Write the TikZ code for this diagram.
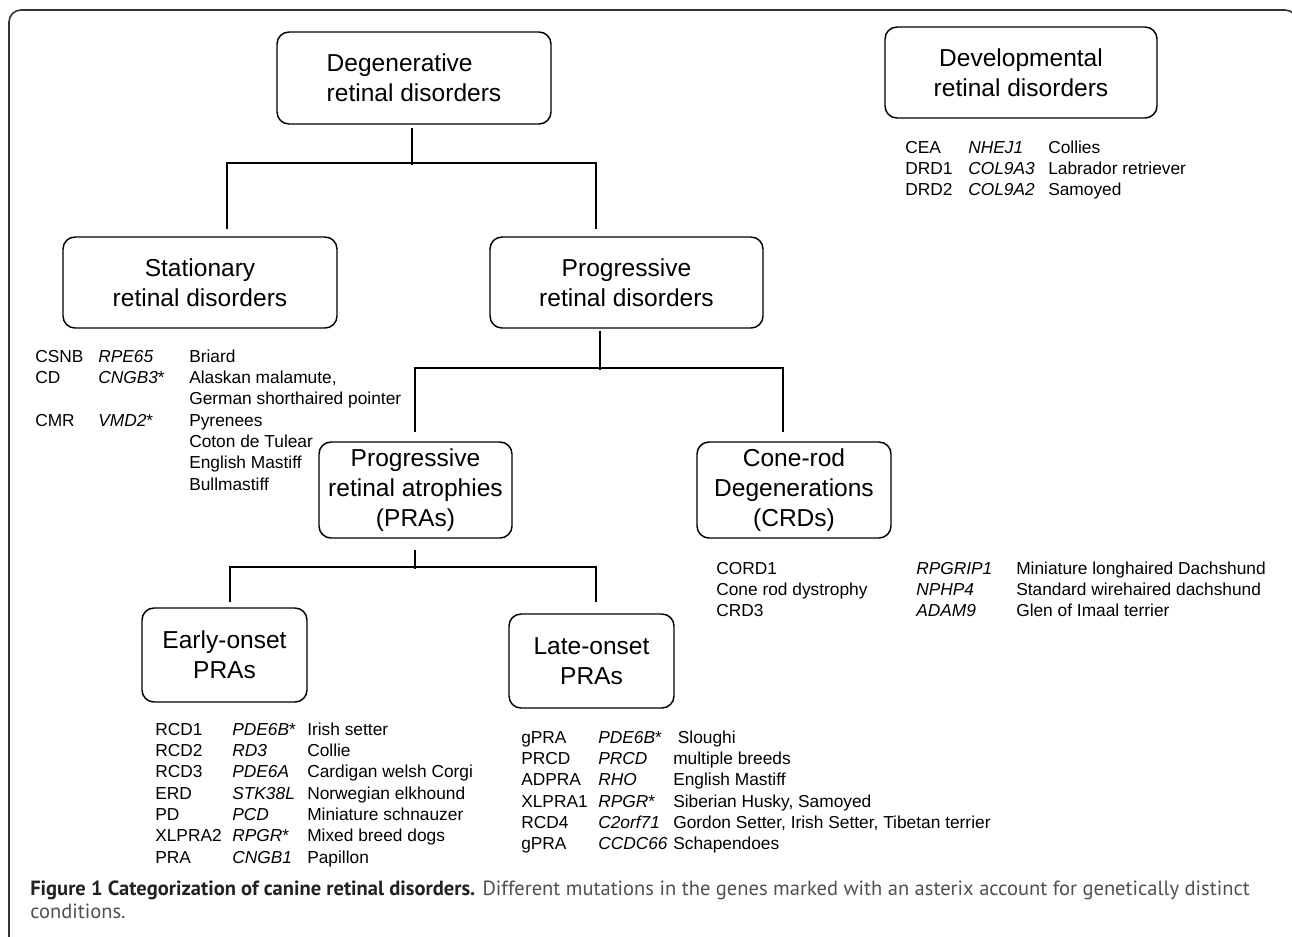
\documentclass[tikz,border=0pt]{standalone}
\usepackage{fontspec}
\setmainfont{Liberation Sans}
\newfontfamily\capfont{PT Sans}
\usepackage{array}
\definecolor{framegray}{HTML}{333333}
\definecolor{capgray}{HTML}{505050}
\definecolor{capdark}{HTML}{222222}

\begin{document}
\begin{tikzpicture}[x=0.75pt, y=-0.75pt,
    catbox/.style={draw, line width=1.1pt, rounded corners=9pt, align=center, inner sep=0pt, font=\fontsize{18.4}{22.5}\selectfont},
    link/.style={line width=1.6pt},
    genetab/.style={anchor=base west, inner sep=0pt, font=\fontsize{13}{16}\selectfont},
    frame/.style={draw=framegray, line width=1.2pt, rounded corners=9pt}]
  \useasboundingbox (0,0) rectangle (1292,936);
  \fill[white] (0,0) rectangle (1292,936);
  \begin{scope}
    \clip (0,0) rectangle (1292,936);
    \draw[frame] (9,960) -- (9,10) -- (1297,10) -- (1297,960);
  \end{scope}

  \node[catbox, minimum width=205.5pt, minimum height=69pt, align=left] (degen) at (414,78) {Degenerative\\retinal disorders};
  \node[catbox, minimum width=204pt, minimum height=68.25pt] (devel) at (1021,72.5) {Developmental\\retinal disorders};
  \node[catbox, minimum width=205.5pt, minimum height=68.25pt] (stat) at (200,282.5) {Stationary\\retinal disorders};
  \node[catbox, minimum width=204.75pt, minimum height=68.25pt] (prog) at (626.5,282.5) {Progressive\\retinal disorders};
  \node[catbox, minimum width=144.75pt, minimum height=72pt] (pras) at (415.5,490) {Progressive\\retinal atrophies\\(PRAs)};
  \node[catbox, minimum width=145.5pt, minimum height=72pt] (crds) at (794,490) {Cone-rod\\Degenerations\\(CRDs)};
  \node[catbox, minimum width=123.75pt, minimum height=70.5pt] (early) at (224.5,655) {Early-onset\\PRAs};
  \node[catbox, minimum width=123.75pt, minimum height=70.5pt] (late) at (591.5,661) {Late-onset\\PRAs};

  \draw[link] (degen.south) ++(-2,3) -- ++(0,37);
  \draw[link] (stat.north) ++(27,-7) |- ++(369,-66) -- ++(0,66);
  \draw[link] (prog.south) ++(-26.5,2) -- ++(0,39);
  \draw[link] (pras.north) ++(-0.5,-9) |- ++(368,-64) -- ++(0,64);
  \draw[link] (pras.south) ++(-0.5,11) -- ++(0,19);
  \draw[link] (early.north) ++(5.5,-5) |- ++(366,-35) -- ++(0,35);

  \node[genetab] (devtab) at (905,153) {\begin{tabular}[t]{@{}p{47.25pt}@{}p{60pt}@{}l@{}}
    CEA & \textit{NHEJ1} & Collies\\
    DRD1 & \textit{COL9A3} & Labrador retriever\\
    DRD2 & \textit{COL9A2} & Samoyed
  \end{tabular}};
  \node[genetab] (stattab) at (35,362) {\begin{tabular}[t]{@{}p{47.25pt}@{}p{68.25pt}@{}l@{}}
    CSNB & \textit{RPE65} & Briard\\
    CD & \textit{CNGB3}* & Alaskan malamute,\\
     & & German shorthaired pointer\\
    CMR & \textit{VMD2}* & Pyrenees\\
     & & Coton de Tulear\\
     & & English Mastiff\\
     & & Bullmastiff
  \end{tabular}};
  \node[genetab] (crdtab) at (716,574) {\begin{tabular}[t]{@{}p{150pt}@{}p{75pt}@{}l@{}}
    CORD1 & \textit{RPGRIP1} & Miniature longhaired Dachshund\\
    Cone rod dystrophy & \textit{NPHP4} & Standard wirehaired dachshund\\
    CRD3 & \textit{ADAM9} & Glen of Imaal terrier
  \end{tabular}};
  \node[genetab] (earlytab) at (155,735) {\begin{tabular}[t]{@{}p{57.75pt}@{}p{56.25pt}@{}l@{}}
    RCD1 & \textit{PDE6B}* & Irish setter\\
    RCD2 & \textit{RD3} & Collie\\
    RCD3 & \textit{PDE6A} & Cardigan welsh Corgi\\
    ERD & \textit{STK38L} & Norwegian elkhound\\
    PD & \textit{PCD} & Miniature schnauzer\\
    XLPRA2 & \textit{RPGR}* & Mixed breed dogs\\
    PRA & \textit{CNGB1} & Papillon
  \end{tabular}};
  \node[genetab] (latetab) at (521,743) {\begin{tabular}[t]{@{}p{57.75pt}@{}p{56.25pt}@{}l@{}}
    gPRA & \textit{PDE6B}* & \hspace{3.5pt}Sloughi\\
    PRCD & \textit{PRCD} & multiple breeds\\
    ADPRA & \textit{RHO} & English Mastiff\\
    XLPRA1 & \textit{RPGR}* & Siberian Husky, Samoyed\\
    RCD4 & \textit{C2orf71} & Gordon Setter, Irish Setter, Tibetan terrier\\
    gPRA & \textit{CCDC66} & Schapendoes
  \end{tabular}};

  \node[anchor=base west, inner sep=0pt, text=capgray, font=\capfont\fontsize{15.4}{17.5}\selectfont] (caption) at (30,895) {\begin{tabular}[t]{@{}l@{}}
    {\bfseries\color{capdark}Figure 1 Categorization of canine retinal disorders.} Different mutations in the genes marked with an asterix account for genetically distinct\\
    conditions.
  \end{tabular}};
\end{tikzpicture}
\end{document}
